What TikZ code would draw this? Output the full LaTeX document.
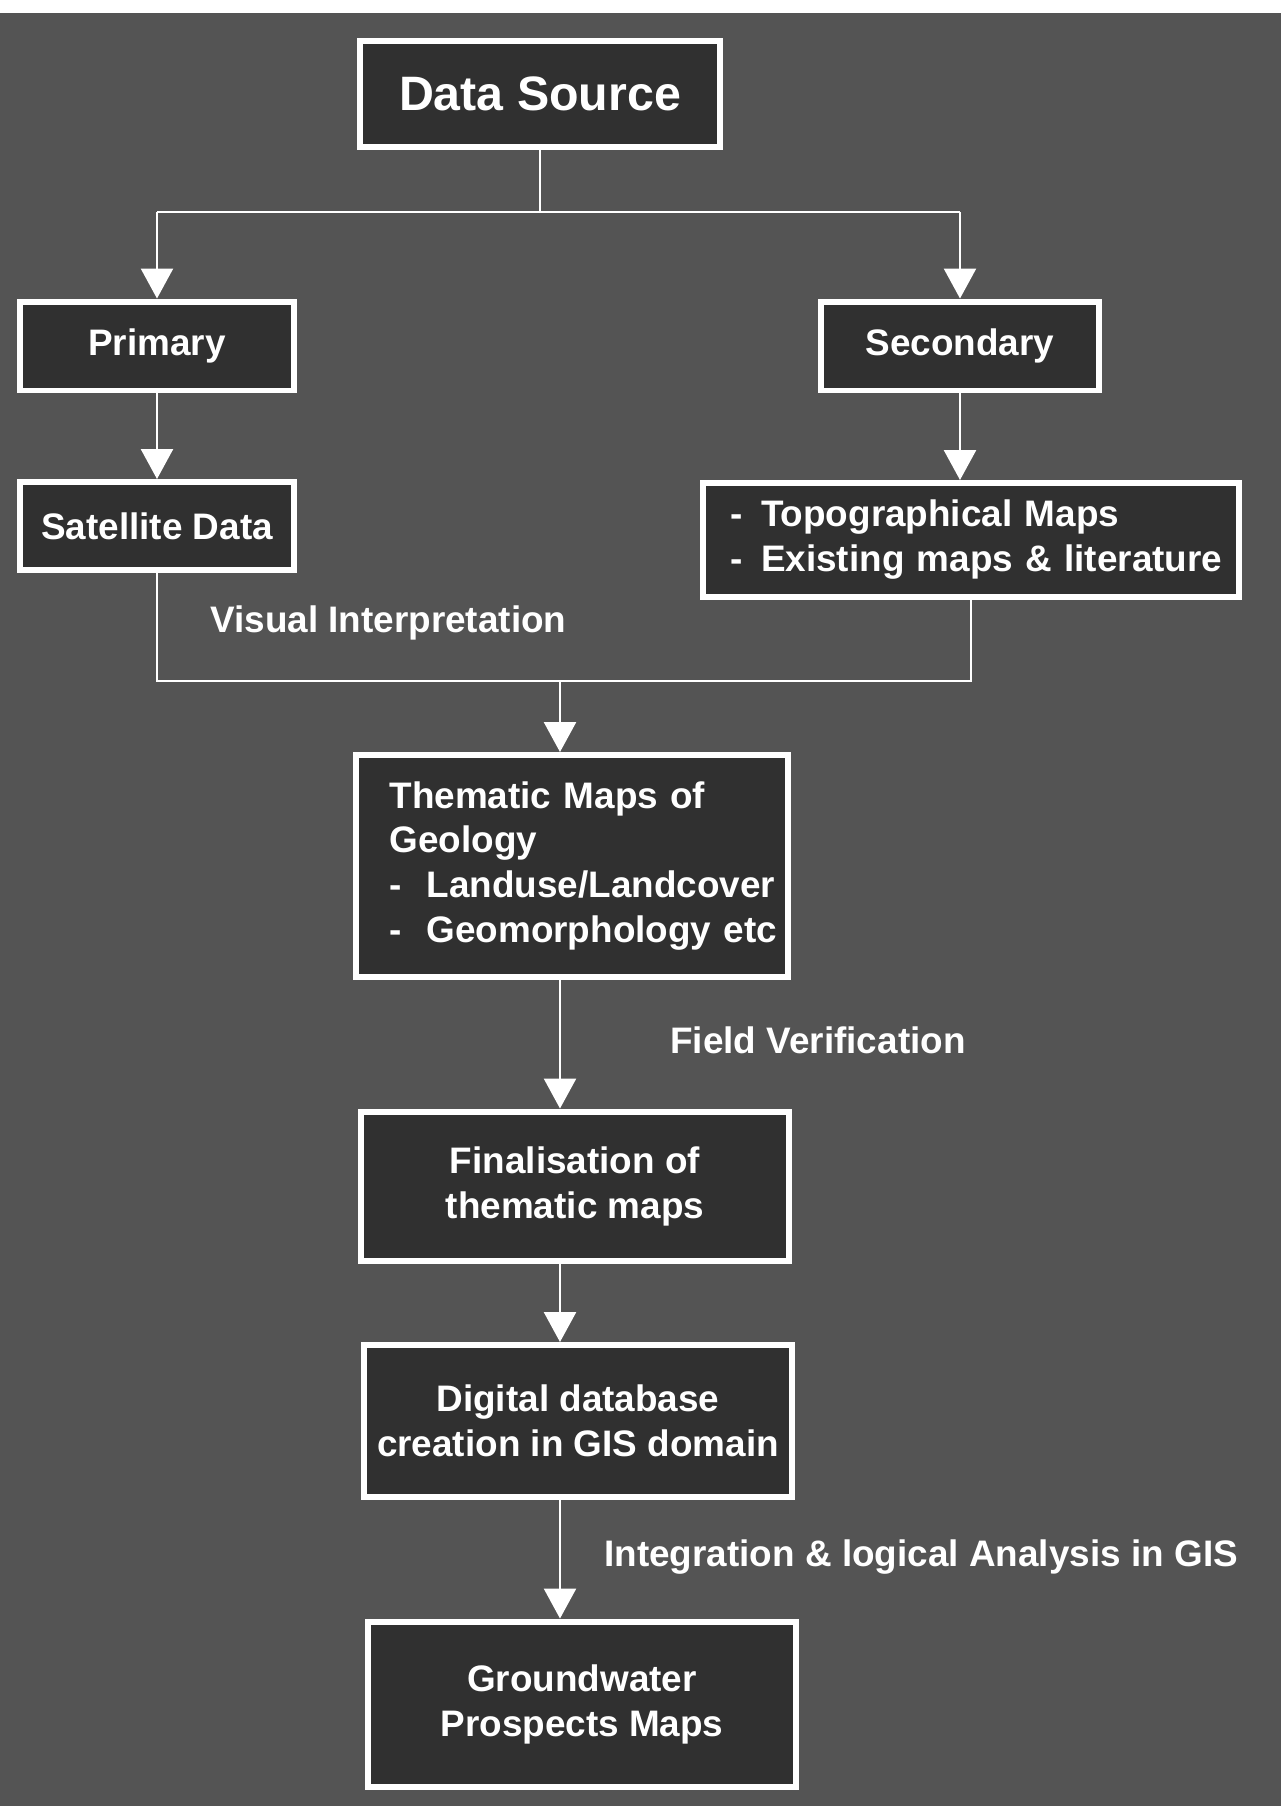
\documentclass[tikz,border=0pt]{standalone}
\usepackage{fontspec}
\setmainfont{Liberation Sans}
\usetikzlibrary{arrows.meta}
\definecolor{scanbg}{RGB}{84,84,84}
\definecolor{boxfill}{RGB}{48,48,48}
\newcommand{\itemline}[2]{\mbox{\makebox[#1][l]{-}#2}}
\begin{document}
\begin{tikzpicture}[x=0.02cm, y=-0.02cm,
		box/.style={draw=white, line width=0.12cm, fill=boxfill, text=white,
			font=\fontsize{21}{25.6}\selectfont\bfseries, align=center, inner sep=0pt},
		listbox/.style={box, align=left},
		midbox/.style={box, minimum width=8.55cm},
		link/.style={draw=white, line width=0.05cm},
		flow/.style={link, -{Triangle[width=0.64cm, length=0.6cm]}},
		note/.style={text=white, font=\fontsize{21}{25.6}\selectfont\bfseries,
			inner sep=0pt, anchor=west}]
		\fill[white] (0,0) rectangle (1281,13);
		\fill[scanbg] (0,13) rectangle (1281,1806);
		\useasboundingbox (0,0) rectangle (1281,1806);

		\node (src) [box, minimum width=7.22cm, minimum height=2.12cm,
			font=\fontsize{27.5}{33}\selectfont\bfseries] at (540,94) {Data Source};
		\node (pri) [box, minimum width=5.5cm, minimum height=1.78cm] at (157,346) {Primary};
		\node (sec) [box, minimum width=5.58cm, minimum height=1.78cm] at (960,346) {Secondary};
		\node (sat) [box, minimum width=5.5cm, minimum height=1.76cm] at (157,526) {Satellite Data};
		\node (topo) [listbox, text width=9.64cm, inner xsep=0.55cm,
			minimum height=2.28cm] at (971,540)
			{\itemline{0.62cm}{Topographical Maps}\\
			\itemline{0.62cm}{Existing maps \& literature}};
		\node (them) [listbox, text width=7.3cm, inner xsep=0.68cm,
			minimum height=4.44cm] at (572,866)
			{\mbox{Thematic Maps of}\\
			\mbox{Geology}\\
			\itemline{0.74cm}{Landuse/Landcover}\\
			\itemline{0.74cm}{Geomorphology etc}};
		\node (fin) [midbox, minimum height=2.98cm] at (575,1186) {Finalisation of\\ thematic maps};
		\node (dig) [midbox, minimum height=3.04cm] at (578,1421) {Digital database\\ creation in GIS domain};
		\node (gw) [midbox, minimum height=3.3cm] at (582,1704) {Groundwater\\ Prospects Maps};

		\coordinate (fork) at (540,212);
		\coordinate (merge) at (560,681);

		\draw[link] (src.south) -- (fork);
		\draw[link] (pri.north |- fork) -- (sec.north |- fork);
		\draw[flow] (pri.north |- fork) -- (pri.north);
		\draw[flow] (sec.north |- fork) -- (sec.north);
		\draw[flow] (pri) -- (sat);
		\draw[flow] (sec.south) -- (sec.south |- topo.north);
		\draw[link] (sat.south) |- (merge) -| (topo.south);
		\draw[flow] (merge) -- (merge |- them.north);
		\draw[flow] (them.south -| merge) -- (fin.north -| merge);
		\draw[flow] (fin.south -| merge) -- (dig.north -| merge);
		\draw[flow] (dig.south -| merge) -- (gw.north -| merge);

		\node (vis) [note] at (210,623) {Visual Interpretation};
		\node (field) [note] at (670,1040) {Field Verification};
		\node (integ) [note] at (604,1557) {Integration \& logical Analysis in GIS};
	\end{tikzpicture}
\end{document}
